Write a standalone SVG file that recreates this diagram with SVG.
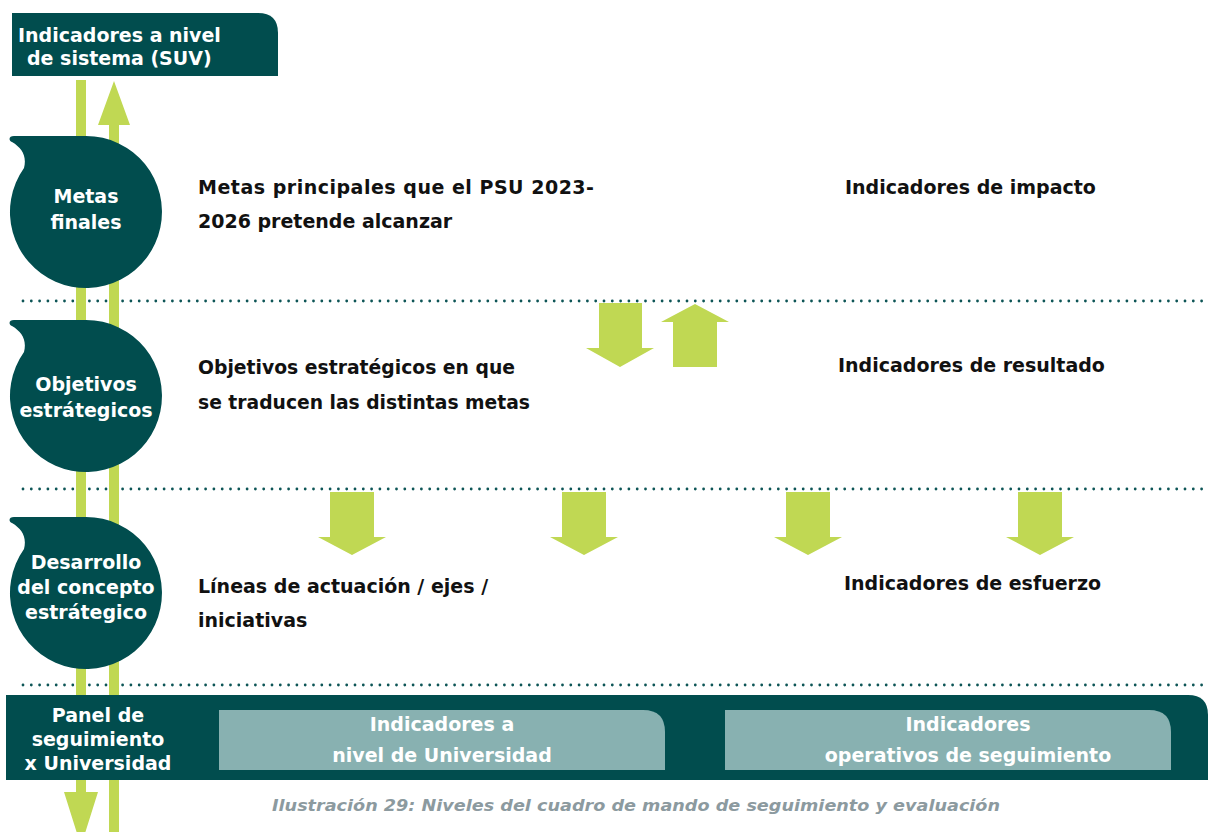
<svg xmlns="http://www.w3.org/2000/svg" width="1208" height="832" viewBox="0 0 1208 832">
<style>
.teal{fill:#014d4e}
.green{fill:#c0d853}
.lbox{fill:#88b1b1}
.dots{stroke:#0d5556;stroke-width:2.8;stroke-linecap:round;stroke-dasharray:0 8.3;fill:none}
.wt{font-family:"DejaVu Sans",Verdana,sans-serif;font-weight:bold;font-size:19px;fill:#ffffff}
.wc{text-anchor:middle}
.bt{font-family:"DejaVu Sans",Verdana,sans-serif;font-weight:bold;font-size:19px;fill:#111111}
.cap{font-family:"DejaVu Sans",Verdana,sans-serif;font-weight:bold;font-style:italic;font-size:16px;fill:#8c9a9f}
</style>
<defs>
<path id="bubble" d="M14,-76 L86,-76 A76 76 0 1 1 24,-44 C27,-56 22,-64 12,-70 C8,-72 9,-76 14,-76 Z"/>
<path id="down" d="M-22,0 L22,0 L22,45 L34,45 L0,63 L-34,45 L-22,45 Z"/>
</defs>
<rect width="1208" height="832" fill="#ffffff"/>

<g id="separators">
<line class="dots" x1="23" y1="301" x2="1208" y2="301"/>
<line class="dots" x1="23" y1="489" x2="1208" y2="489"/>
<line class="dots" x1="23" y1="685" x2="1208" y2="685"/>
</g>

<g id="connectors">
<path class="green" d="M76,80 L86,80 L86,792 L98,792 L81,846 L64,792 L76,792 Z"/>
<path class="green" d="M114,81 L130,125 L119,125 L119,832 L109,832 L109,125 L98,125 Z"/>
<path class="green" d="M599,303 L642,303 L642,348 L654,348 L620,367 L586,348 L599,348 Z"/>
<path class="green" d="M695,304 L729,322 L717,322 L717,367 L673,367 L673,322 L661,322 Z"/>
<use href="#down" class="green" transform="translate(352,492)"/>
<use href="#down" class="green" transform="translate(584,492)"/>
<use href="#down" class="green" transform="translate(808,492)"/>
<use href="#down" class="green" transform="translate(1040,492)"/>
</g>

<g id="suv">
<path class="teal" d="M12,13 L258,13 Q278,13 278,33 L278,76 L12,76 Z"/>
<text class="wt" x="18" y="42">Indicadores a nivel</text>
<text class="wt" x="27" y="65">de sistema (SUV)</text>
</g>

<g id="metas">
<use href="#bubble" class="teal" transform="translate(0,212)"/>
<text class="wt wc" x="86" y="203">Metas</text>
<text class="wt wc" x="86" y="229">finales</text>
</g>

<g id="objetivos">
<use href="#bubble" class="teal" transform="translate(0,396)"/>
<text class="wt wc" x="86" y="391">Objetivos</text>
<text class="wt wc" x="86" y="417">estrátegicos</text>
</g>

<g id="desarrollo">
<use href="#bubble" class="teal" transform="translate(0,593)"/>
<text class="wt wc" x="86" y="569">Desarrollo</text>
<text class="wt wc" x="86" y="594">del concepto</text>
<text class="wt wc" x="86" y="619">estrátegico</text>
</g>

<g id="panel">
<path class="teal" d="M6,695 L1188,695 Q1208,695 1208,715 L1208,780 L6,780 Z"/>
<text class="wt wc" x="98" y="722">Panel de</text>
<text class="wt wc" x="98" y="746">seguimiento</text>
<text class="wt wc" x="98" y="770">x Universidad</text>
</g>

<g id="ind-universidad">
<path class="lbox" d="M219,710 L643,710 Q665,710 665,732 L665,770 L219,770 Z"/>
<text class="wt wc" x="442" y="731">Indicadores a</text>
<text class="wt wc" x="442" y="762">nivel de Universidad</text>
</g>

<g id="ind-operativos">
<path class="lbox" d="M725,710 L1149,710 Q1171,710 1171,732 L1171,770 L725,770 Z"/>
<text class="wt wc" x="968" y="731">Indicadores</text>
<text class="wt wc" x="968" y="762">operativos de seguimiento</text>
</g>

<g id="row-metas">
<text class="bt" x="198" y="194" textLength="396" lengthAdjust="spacing">Metas principales que el PSU 2023-</text>
<text class="bt" x="198" y="228">2026 pretende alcanzar</text>
<text class="bt" x="845" y="194">Indicadores de impacto</text>
</g>

<g id="row-objetivos">
<text class="bt" x="198" y="374" textLength="317" lengthAdjust="spacingAndGlyphs">Objetivos estratégicos en que</text>
<text class="bt" x="198" y="409" textLength="332" lengthAdjust="spacingAndGlyphs">se traducen las distintas metas</text>
<text class="bt" x="838" y="372">Indicadores de resultado</text>
</g>

<g id="row-desarrollo">
<text class="bt" x="198" y="593">Líneas de actuación / ejes /</text>
<text class="bt" x="198" y="627">iniciativas</text>
<text class="bt" x="844" y="590">Indicadores de esfuerzo</text>
</g>

<text class="cap" x="272" y="811" textLength="728" lengthAdjust="spacingAndGlyphs">Ilustración 29: Niveles del cuadro de mando de seguimiento y evaluación</text>
</svg>
